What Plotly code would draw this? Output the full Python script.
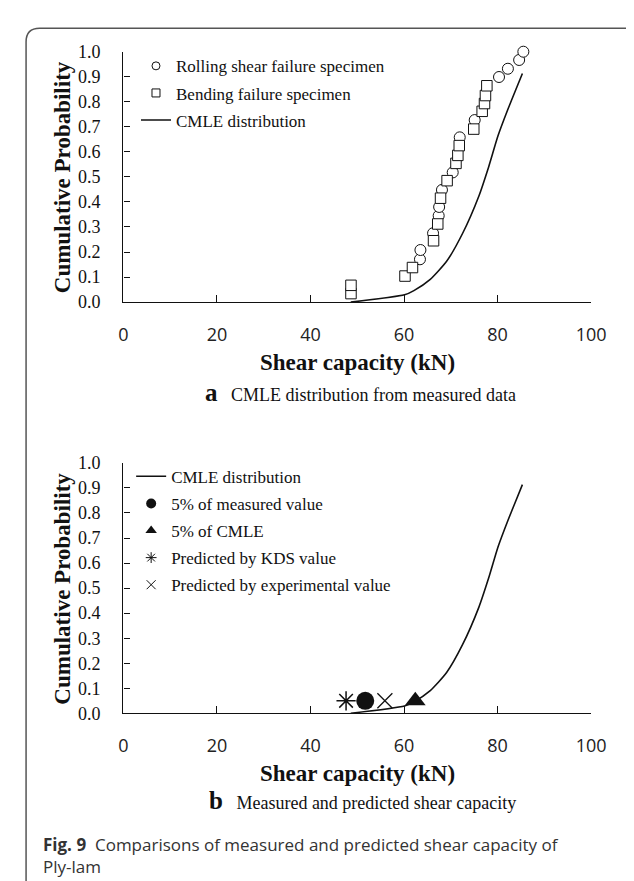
import plotly.graph_objects as go

W, H = 634, 881

# ---------------- data ----------------
# CMLE distribution curve
cmle_x = [48.6, 60.1, 62.1, 65.6, 69.1, 72.5, 76.0, 78.1, 80.1, 82.2, 83.6, 85.3]
cmle_y = [0.0, 0.029, 0.046, 0.091, 0.163, 0.274, 0.424, 0.541, 0.665, 0.770, 0.835, 0.913]

# Rolling shear failure specimens (circles)
rolling_x = [63.4, 63.5, 66.2, 67.4, 67.5, 68.1, 70.4, 71.9, 75.1, 80.3, 82.2, 84.6, 85.5]
rolling_y = [0.171, 0.208, 0.275, 0.345, 0.380, 0.448, 0.518, 0.658, 0.727, 0.899, 0.932, 0.967, 1.000]

# Bending failure specimens (squares)
bending_x = [48.65, 48.65, 60.2, 61.8, 66.3, 67.2, 67.8, 69.2, 71.1, 71.5, 71.8, 74.9, 76.7, 77.2, 77.4, 77.7]
bending_y = [0.034, 0.067, 0.104, 0.138, 0.245, 0.312, 0.415, 0.485, 0.554, 0.586, 0.625, 0.691, 0.762, 0.793, 0.825, 0.864]

# 5% values (panel b)
kds_x, kds_y = [47.6], [0.05]
meas5_x, meas5_y = [51.7], [0.05]
exp_x, exp_y = [55.9], [0.05]
cmle5_x, cmle5_y = [62.4], [0.05]

x_ticks = [0, 20, 40, 60, 80, 100]
y_ticks = [0.0, 0.1, 0.2, 0.3, 0.4, 0.5, 0.6, 0.7, 0.8, 0.9, 1.0]

# ---------------- helpers ----------------
def fx(p):
    return p / W

def fy(p):
    return 1 - p / H

SERIF = "Liberation Serif"
SANS = "Open Sans"
INK = "#111111"

fig = go.Figure()

# ---------------- panel a ----------------
fig.add_trace(go.Scatter(x=cmle_x, y=cmle_y, mode="lines", line=dict(color=INK, width=1.6, shape="spline", smoothing=0.6),
                         xaxis="x", yaxis="y", showlegend=False, cliponaxis=False))
fig.add_trace(go.Scatter(x=rolling_x, y=rolling_y, mode="markers",
                         marker=dict(symbol="circle", size=11, color="white", line=dict(color=INK, width=1)),
                         xaxis="x", yaxis="y", showlegend=False, cliponaxis=False))
fig.add_trace(go.Scatter(x=bending_x, y=bending_y, mode="markers",
                         marker=dict(symbol="square", size=10.5, color="white", line=dict(color=INK, width=1)),
                         xaxis="x", yaxis="y", showlegend=False, cliponaxis=False))

# legend entries panel a
fig.add_trace(go.Scatter(x=[None], y=[None], mode="markers", name="Rolling shear failure specimen",
                         marker=dict(symbol="circle-open", size=8, color=INK, line=dict(width=1)),
                         xaxis="x", yaxis="y", legend="legend", legendgroup="a1"))
fig.add_trace(go.Scatter(x=[None], y=[None], mode="markers", name="Bending failure specimen",
                         marker=dict(symbol="square-open", size=8, color=INK, line=dict(width=1)),
                         xaxis="x", yaxis="y", legend="legend", legendgroup="a2"))
fig.add_trace(go.Scatter(x=[None], y=[None], mode="lines", name="CMLE distribution",
                         line=dict(color=INK, width=1.6),
                         xaxis="x", yaxis="y", legend="legend", legendgroup="a3"))

# ---------------- panel b ----------------
fig.add_trace(go.Scatter(x=cmle_x, y=cmle_y, mode="lines", line=dict(color=INK, width=1.6, shape="spline", smoothing=0.6),
                         xaxis="x2", yaxis="y2", showlegend=False, cliponaxis=False))
fig.add_trace(go.Scatter(x=kds_x, y=kds_y, mode="markers",
                         marker=dict(symbol="asterisk-open", size=16, color=INK, line=dict(color=INK, width=1.5)),
                         xaxis="x2", yaxis="y2", showlegend=False, cliponaxis=False))
fig.add_trace(go.Scatter(x=meas5_x, y=meas5_y, mode="markers",
                         marker=dict(symbol="circle", size=18, color=INK),
                         xaxis="x2", yaxis="y2", showlegend=False, cliponaxis=False))
fig.add_trace(go.Scatter(x=exp_x, y=exp_y, mode="markers",
                         marker=dict(symbol="x-thin-open", size=15, color=INK, line=dict(color=INK, width=1.3)),
                         xaxis="x2", yaxis="y2", showlegend=False, cliponaxis=False))
fig.add_trace(go.Scatter(x=cmle5_x, y=cmle5_y, mode="markers",
                         marker=dict(symbol="triangle-up", size=18, color=INK),
                         xaxis="x2", yaxis="y2", showlegend=False, cliponaxis=False))

# legend entries panel b
fig.add_trace(go.Scatter(x=[None], y=[None], mode="lines", name="CMLE distribution",
                         line=dict(color=INK, width=1.6),
                         xaxis="x2", yaxis="y2", legend="legend2", legendgroup="b1"))
fig.add_trace(go.Scatter(x=[None], y=[None], mode="markers", name="5% of measured value",
                         marker=dict(symbol="circle", size=10, color=INK),
                         xaxis="x2", yaxis="y2", legend="legend2", legendgroup="b2"))
fig.add_trace(go.Scatter(x=[None], y=[None], mode="markers", name="5% of CMLE",
                         marker=dict(symbol="triangle-up", size=10, color=INK),
                         xaxis="x2", yaxis="y2", legend="legend2", legendgroup="b3"))
fig.add_trace(go.Scatter(x=[None], y=[None], mode="markers", name="Predicted by KDS value",
                         marker=dict(symbol="asterisk-open", size=9, color=INK, line=dict(color=INK, width=1)),
                         xaxis="x2", yaxis="y2", legend="legend2", legendgroup="b4"))
fig.add_trace(go.Scatter(x=[None], y=[None], mode="markers", name="Predicted by experimental value",
                         marker=dict(symbol="x-thin-open", size=9, color=INK, line=dict(color=INK, width=1)),
                         xaxis="x2", yaxis="y2", legend="legend2", legendgroup="b5"))

# ---------------- axes ----------------
def xaxis_cfg(anchor):
    return dict(
        domain=[fx(114), fx(597)], anchor=anchor, range=[0, 100],
        tickvals=x_ticks, ticktext=[str(v) for v in x_ticks],
        ticks="inside", ticklen=7, tickwidth=1.2, tickcolor=INK,
        showline=True, linecolor=INK, linewidth=1.4,
        showgrid=False, zeroline=False,
        tickfont=dict(family=SANS, size=18, color="#222222"),
        ticklabelstandoff=16,
    )

def yaxis_cfg(anchor, top_px, bot_px):
    return dict(
        domain=[fy(bot_px), fy(top_px)], anchor=anchor, range=[0, 1.0],
        tickvals=y_ticks, ticktext=["%.1f" % v for v in y_ticks],
        ticks="inside", ticklen=6, tickwidth=1.2, tickcolor=INK,
        showline=True, linecolor=INK, linewidth=1.4,
        showgrid=False, zeroline=False,
        tickfont=dict(family=SERIF, size=18, color=INK),
        ticklabelstandoff=18,
    )

legend_common = dict(
    font=dict(family=SERIF, size=17, color=INK),
    bgcolor="rgba(0,0,0,0)", borderwidth=0,
    xanchor="left", yanchor="top",
    traceorder="grouped", tracegroupgap=2,
    itemwidth=30,
)

layout = dict(
    width=W, height=H,
    margin=dict(l=0, r=0, t=0, b=0),
    paper_bgcolor="white", plot_bgcolor="white",
    xaxis=xaxis_cfg("y"),
    yaxis=yaxis_cfg("x", 34.5, 290.7),
    xaxis2=xaxis_cfg("y2"),
    yaxis2=yaxis_cfg("x2", 455.2, 711.5),
    legend=dict(x=fx(127), y=fy(31), **legend_common),
    legend2=dict(x=fx(122), y=fy(451), **legend_common),
)
fig.update_layout(**layout)

# ---------------- text ----------------
ann = []
def add_text(text, xp, yp, size, family, bold=False, angle=0, xanchor="center", color=INK):
    ann.append(dict(
        text=("<b>%s</b>" % text) if bold else text,
        x=fx(xp), y=fy(yp), xref="paper", yref="paper",
        xanchor=xanchor, yanchor="middle", showarrow=False, textangle=angle,
        font=dict(family=family, size=size, color=color),
    ))

for top in (0, 421):
    add_text("Cumulative Probability", 51, 162.5 + top, 23, SERIF, bold=True, angle=-90)
    add_text("Shear capacity (kN)", 356, 352 + top, 23, SERIF, bold=True)

ann.append(dict(
    text="<b><span style='font-size:25px'>a</span></b>&nbsp;&nbsp; CMLE distribution from measured data",
    x=fx(196), y=fy(383), xref="paper", yref="paper", xanchor="left", yanchor="middle",
    showarrow=False, font=dict(family=SERIF, size=18, color=INK)))
ann.append(dict(
    text="<b><span style='font-size:25px'>b</span></b>&nbsp;&nbsp; Measured and predicted shear capacity",
    x=fx(200), y=fy(801), xref="paper", yref="paper", xanchor="left", yanchor="middle",
    showarrow=False, font=dict(family=SERIF, size=18, color=INK)))

ann.append(dict(
    text="<b>Fig. 9</b>&nbsp; Comparisons of measured and predicted shear capacity of",
    x=fx(29), y=fy(846), xref="paper", yref="paper", xanchor="left", yanchor="middle",
    showarrow=False, font=dict(family=SANS, size=17, color="#333333")))
ann.append(dict(
    text="Ply-lam",
    x=fx(29), y=fy(868), xref="paper", yref="paper", xanchor="left", yanchor="middle",
    showarrow=False, font=dict(family=SANS, size=17, color="#333333")))

fig.update_layout(annotations=ann)

# frame (rounded top-left corner)
x0, ytop, r = 13.5, 10.5, 14
path = "M %f,%f L %f,%f Q %f,%f %f,%f L %f,%f" % (
    fx(x0), fy(H + 5), fx(x0), fy(ytop + r), fx(x0), fy(ytop), fx(x0 + r), fy(ytop), fx(W + 5), fy(ytop))
fig.add_shape(type="path", path=path, xref="paper", yref="paper",
              line=dict(color="#555555", width=1.5))

fig.write_html("out.html")
